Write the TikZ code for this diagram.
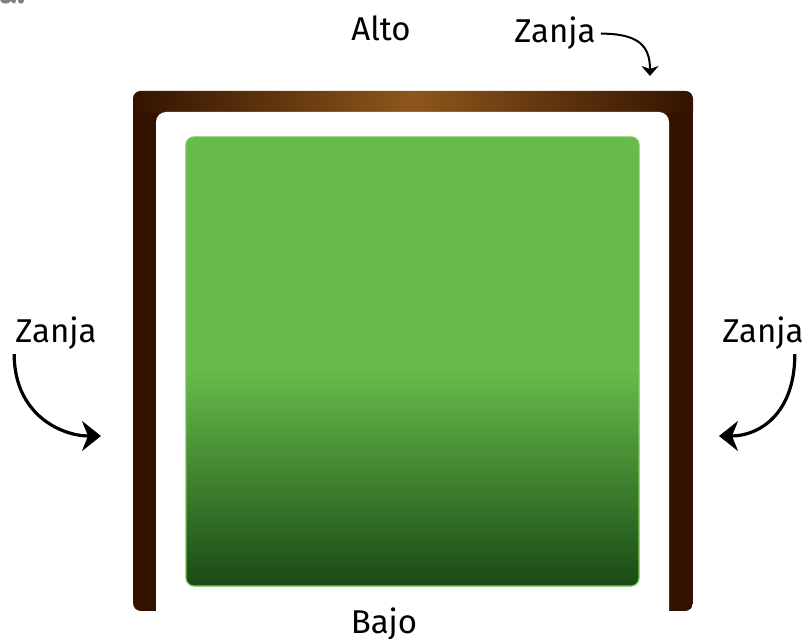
\documentclass[tikz,border=0pt]{standalone}
\usepackage{fontspec}
\setmainfont{Fira Sans}
\usetikzlibrary{arrows.meta}
\definecolor{soil}{HTML}{331300}
\definecolor{soillight}{HTML}{8D571B}
\definecolor{grass}{HTML}{66BB4A}
\definecolor{grassdark}{HTML}{1A4A15}
\definecolor{grassedge}{HTML}{72C553}

\begin{document}
\begin{tikzpicture}[x=1pt, y=-1pt,
  every node/.style = {font=\fontsize{33}{33}\selectfont, inner sep=0pt, anchor=base},
  bigcurve/.style = {line width=3.2pt, -{Stealth[length=19pt, width=30pt, inset=6pt]}},
  smallcurve/.style = {line width=2pt, -{Stealth[length=10pt, width=17pt, inset=3pt]}}]
  \useasboundingbox (0,0) rectangle (806,639);
  \node[anchor=base west, text=gray] (mark) at (-1,4) {\bfseries a.};
  % trench
  \begin{scope}
    \clip[rounded corners=8pt] (133,91) rectangle (693,611);
    \fill[soil] (133,91) rectangle (693,611);
    \shade[left color=soil, right color=soil, middle color=soillight] (133,91) rectangle (693,113);
  \end{scope}
  \fill[white, rounded corners=10pt] (156,112) rectangle (669,660);
  % field
  \begin{scope}
    \clip[rounded corners=8pt] (186,137) rectangle (639,586);
    \fill[grass] (186,137) rectangle (639,371);
    \shade[top color=grass, bottom color=grassdark] (186,370) rectangle (639,586);
  \end{scope}
  \draw[grassedge, line width=1.2pt, rounded corners=8pt] (186,137) rectangle (639,586);
  % labels
  \node (alto) at (381,41) {Alto};
  \node (zanjaTop) at (555,43) {Zanja};
  \node (zanjaLeft) at (56,342) {Zanja};
  \node (zanjaRight) at (763,342) {Zanja};
  \node (bajo) at (384,633) {Bajo};
  \coordinate (tipTop) at (650,76);
  \coordinate (tipLeft) at (101,436);
  \coordinate (tipRight) at (719,436);
  \draw[smallcurve] ([xshift=5pt]zanjaTop.east) .. controls +(38,0) and +(0,-30) .. (tipTop);
  \draw[bigcurve] ([shift={(-1,5)}]zanjaLeft.south west) .. controls +(0,60) and +(-40,0) .. (tipLeft);
  \draw[bigcurve] ([shift={(-9,5)}]zanjaRight.south east) .. controls +(0,60) and +(40,0) .. (tipRight);
\end{tikzpicture}
\end{document}
